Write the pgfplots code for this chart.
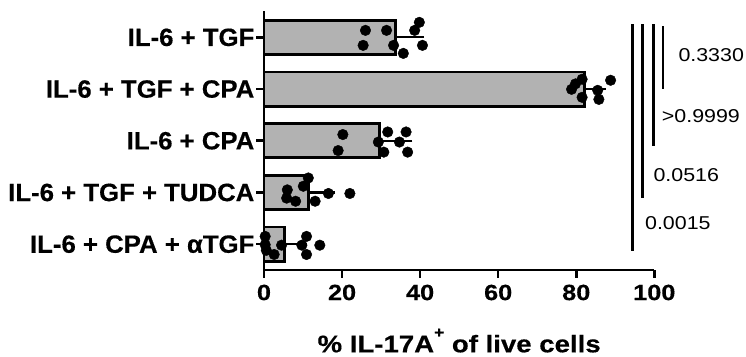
\documentclass[border=0pt]{standalone}
\usepackage{pgfplots}
\pgfplotsset{compat=1.18}
\usepackage{fontspec}
\setmainfont{Liberation Sans}
\newfontfamily\wide{Liberation Sans}[FakeStretch=1.15, BoldFeatures={FakeBold=0.4}]
\newfontfamily\catfont{Liberation Sans}[FakeStretch=1.03, BoldFeatures={FakeBold=0.4}]
\definecolor{barfill}{RGB}{178,178,178}
\begin{document}
\begin{tikzpicture}
\begin{axis}[
  scale only axis,
  width=390.3pt, height=258.5pt,
  xmin=0, xmax=100, ymin=-0.5, ymax=4.5,
  clip=false,
  axis x line*=bottom, axis y line*=left,
  axis line style={line width=2.6pt},
  tick align=outside,
  major tick length=7.5pt,
  tick style={line width=2.6pt, black},
  xtick={0,20,...,100},
  ytick={0,1,2,3,4},
  yticklabels={IL-6 + CPA + αTGF, IL-6 + TGF + TUDCA, IL-6 + CPA, IL-6 + TGF + CPA, IL-6 + TGF},
  /pgf/number format/assume math mode=true,
  xticklabel style={font=\fontsize{22}{26}\wide\bfseries, inner sep=0pt, anchor=north, yshift=-7pt},
  yticklabel style={font=\fontsize{25}{28}\catfont\bfseries, inner sep=0pt, anchor=east, xshift=-2pt},
  xlabel={\% IL-17A\raisebox{0.62em}{\fontsize{15}{15}\wide\bfseries +} of live cells},
  xlabel style={font=\fontsize{24}{28}\wide\bfseries, at={(axis description cs:0.5,0)}, anchor=base, yshift=-82.3pt, inner sep=0pt},
]
\addplot[xbar, bar width=0.66, fill=barfill, draw=black, line width=2.8pt,
  error bars/.cd, x dir=plus, x explicit,
  error bar style={line width=2.3pt, black},
  error mark options={line width=2.3pt, mark size=6pt, black}]
  coordinates {
  (33.7,4) +- (5.8,0)
  (82.2,3) +- (3.8,0)
  (29.5,2) +- (7.0,0)
  (11.3,1) +- (5.4,0)
  (5.2,0) +- (4.2,0)
  };
\addplot[only marks, mark=*, mark size=5.3pt, black] coordinates {
  (26.0,4.135) (31.4,4.135) (25.4,3.845) (33.2,3.845) (35.7,3.69) (38.6,4.135) (39.8,4.29) (40.6,3.845)
  (78.8,2.995) (79.8,3.10) (81.5,3.19) (81.5,2.84) (85.5,2.975) (85.8,2.80) (88.8,3.17)
  (20.2,2.12) (19.0,1.81) (31.7,2.17) (29.3,1.975) (30.7,1.78) (34.7,1.975) (36.4,2.17) (36.8,1.78)
  (11.35,1.28) (10.07,1.12) (5.97,1.05) (5.8,0.89) (8.1,0.83) (13.1,0.83) (16.5,0.98) (22.0,0.98)
  (0.3,0.15) (0.3,-0.01) (0.6,-0.12) (2.6,-0.2) (4.5,-0.02) (9.7,-0.02) (10.9,0.15) (10.9,-0.2) (14.3,-0.02)
};
\draw[line width=2.7pt] (axis cs:94.4,4.25) -- (axis cs:94.4,-0.14);
\draw[line width=2.7pt] (axis cs:97.0,4.25) -- (axis cs:97.0,0.89);
\draw[line width=2.7pt] (axis cs:99.8,4.25) -- (axis cs:99.8,1.89);
\draw[line width=2.7pt] (axis cs:102.2,4.21) -- (axis cs:102.2,3.01);
\begin{scope}[every node/.style={font=\fontsize{18.6}{22}\wide, anchor=west, inner sep=0pt}]
\node at (axis cs:106.15,3.665) {0.3330};
\node at (axis cs:101.9,2.47) {>0.9999};
\node at (axis cs:99.75,1.34) {0.0516};
\node at (axis cs:97.6,0.41) {0.0015};
\end{scope}
\end{axis}
\pgfresetboundingbox
\path (current axis.south west) ++(-264pt,-86pt) rectangle ++(746pt,356pt);
\end{tikzpicture}
\end{document}
